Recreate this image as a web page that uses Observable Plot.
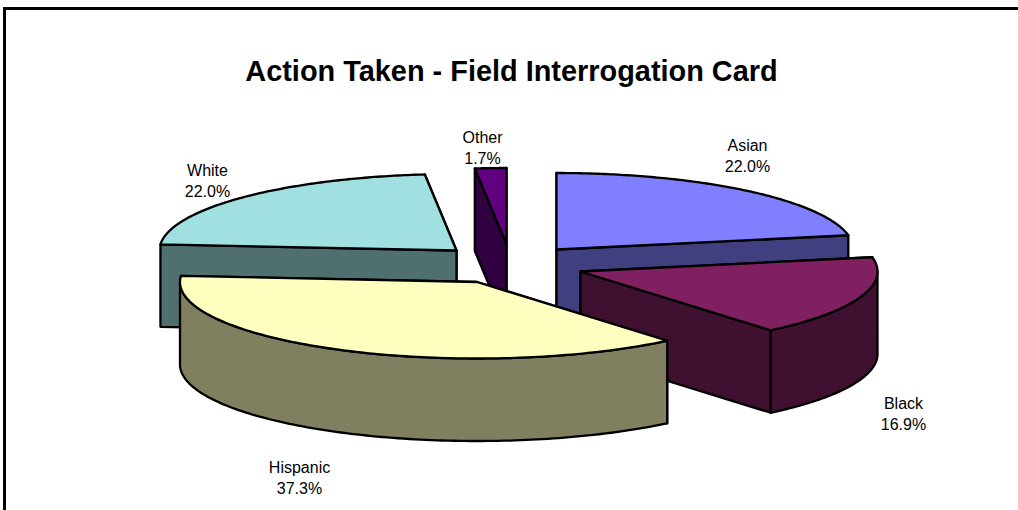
<!DOCTYPE html>
<html>
<head>
<meta charset="utf-8">
<script src="https://cdn.jsdelivr.net/npm/d3@7"></script>
<script src="https://cdn.jsdelivr.net/npm/@observablehq/plot@0.6"></script>
<style>html,body{margin:0;padding:0;background:#fff;overflow:hidden}svg{display:block}</style>
</head>
<body>
<div id="chart"></div>
<script>
const titleText = "Action Taken - Field Interrogation Card";
const categories = ["Asian", "Black", "Hispanic", "White", "Other"];
const shares = [22.0, 16.9, 37.3, 22.0, 1.7];
const topColors = ["#8080ff", "#802060", "#ffffc0", "#a0e0e0", "#600080"];
const sideColors = ["#404080", "#401030", "#808060", "#507070", "#300040"];

// Layout of the exploded, tilted pie
const W = 1018, H = 510;
const rx = 297, ry = 76.5, depth = 82.5;
const apexX = [556, 580, 476.5, 456, 506];
const apexY = [249, 271, 281.5, 250, 244];
const labelX = [747, 903, 299, 207, 482];
const labelY = [154, 412, 476, 179, 146];
const paintOrder = [0, 4, 3, 1, 2];

const total = d3.sum(shares);
const cum = d3.cumsum(shares);
const slices = categories.map((name, i) => ({
  name, share: shares[i],
  a0: ((cum[i] - shares[i]) / total) * 2 * Math.PI,
  a1: (cum[i] / total) * 2 * Math.PI,
  cx: apexX[i], cy: apexY[i], top: topColors[i], side: sideColors[i]
}));

const rim = (s, a) => ({x: s.cx + rx * Math.sin(a), y: s.cy - ry * Math.cos(a)});
const arc = (s, a0, a1) => d3.range(0, 121).map(k => rim(s, a0 + (a1 - a0) * k / 120));
const drop = pts => pts.map(p => ({x: p.x, y: p.y + depth}));
const apex = s => ({x: s.cx, y: s.cy});

const poly = (points, fill) => Plot.line(points, {
  x: "x", y: "y", fill, stroke: "#000", strokeWidth: 2.3,
  curve: "linear-closed", strokeLinejoin: "round"
});

function sliceMarks(s) {
  const out = [];
  // inner walls, the one further back first
  const walls = d3.sort([s.a0, s.a1], a => rim(s, a).y);
  for (const a of walls) {
    const edge = [rim(s, a), apex(s)];
    out.push(poly([...edge, ...drop(edge).reverse()], s.side));
  }
  // outer wall: only the front half of the rim is seen
  const f0 = Math.max(s.a0, Math.PI / 2), f1 = Math.min(s.a1, 3 * Math.PI / 2);
  if (f1 > f0) {
    const r = arc(s, f0, f1);
    out.push(poly([...r, ...drop(r).reverse()], s.side));
  }
  // top face
  out.push(poly([apex(s), ...arc(s, s.a0, s.a1)], s.top));
  return out;
}

const labels = slices.map((s, i) => ({
  text: `${s.name}\n${s.share.toFixed(1)}%`, x: labelX[i], y: labelY[i]
}));

const chart = Plot.plot({
  width: W, height: H,
  margin: 0,
  x: {domain: [0, W], range: [0, W], axis: null},
  y: {domain: [0, H], range: [0, H], axis: null},
  style: {background: "#fff"},
  marks: [
    Plot.ruleX([4], {y1: 7, y2: H, stroke: "#000", strokeWidth: 3}),
    Plot.ruleY([8], {x1: 3, x2: W, stroke: "#000", strokeWidth: 3}),
    ...paintOrder.flatMap(i => sliceMarks(slices[i])),
    Plot.text(labels, {
      x: "x", y: "y", text: "text", lineHeight: 1.31,
      fontFamily: "Liberation Sans", fontSize: 16, fill: "#000"
    }),
    Plot.text([titleText], {
      x: () => 511, y: () => 71, text: d => d,
      fontFamily: "Liberation Sans", fontSize: 28.9, fontWeight: "bold", fill: "#000"
    })
  ]
});
document.getElementById("chart").appendChild(chart);
</script>
</body>
</html>
